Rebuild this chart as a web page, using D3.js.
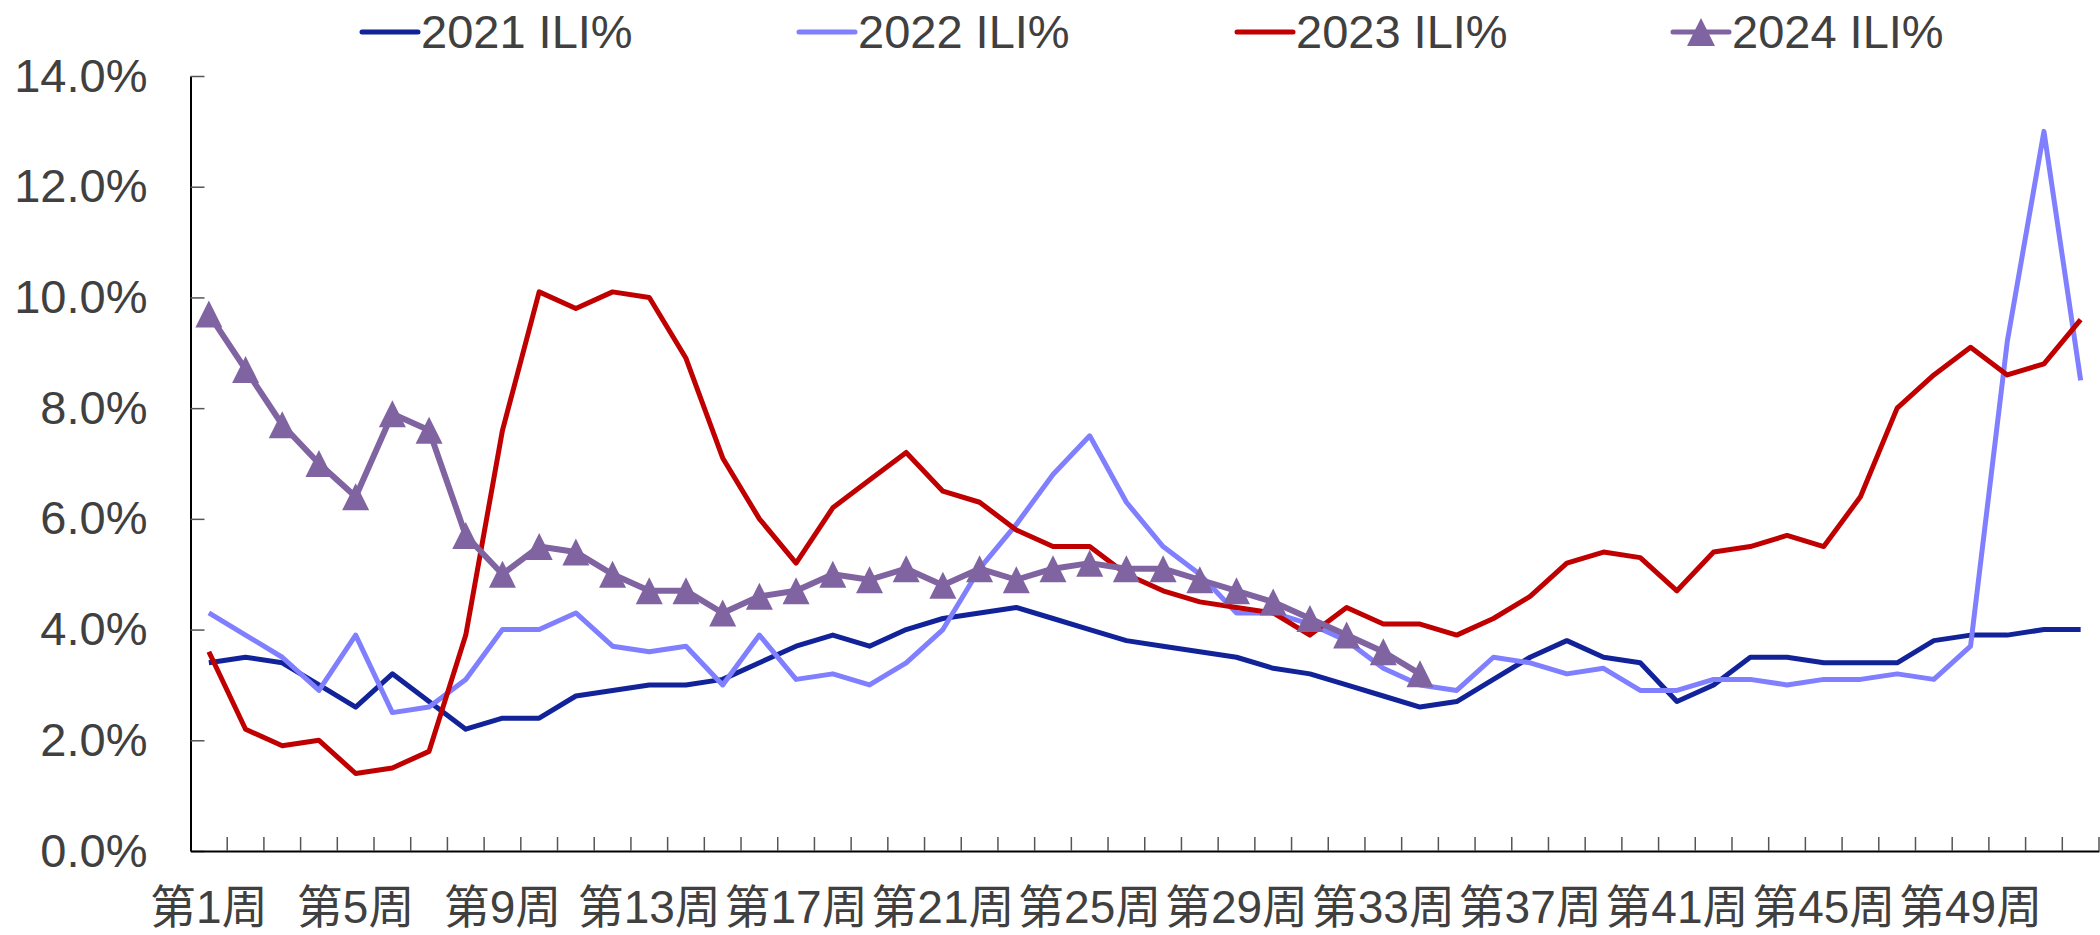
<!DOCTYPE html>
<html>
<head>
<meta charset="utf-8">
<script src="https://cdn.jsdelivr.net/npm/d3@7"></script>
<style>
  html, body { margin: 0; padding: 0; background: #fff; }
  svg { display: block; }
</style>
</head>
<body>
<svg id="chart" width="2100" height="935"></svg>
<script>
// ---- DATA ----
const weeks = d3.range(1, 53).map(i => "第" + i + "周");
const tickLabels = ["第1周","第5周","第9周","第13周","第17周","第21周","第25周","第29周","第33周","第37周","第41周","第45周","第49周"];
const yTicks = [0, 2, 4, 6, 8, 10, 12, 14];

const ili2021 = [3.4,3.5,3.4,3.0,2.6,3.2,2.7,2.2,2.4,2.4,2.8,2.9,3.0,3.0,3.1,3.4,3.7,3.9,3.7,4.0,4.2,4.3,4.4,4.2,4.0,3.8,3.7,3.6,3.5,3.3,3.2,3.0,2.8,2.6,2.7,3.1,3.5,3.8,3.5,3.4,2.7,3.0,3.5,3.5,3.4,3.4,3.4,3.8,3.9,3.9,4.0,4.0];
const ili2022 = [4.3,3.9,3.5,2.9,3.9,2.5,2.6,3.1,4.0,4.0,4.3,3.7,3.6,3.7,3.0,3.9,3.1,3.2,3.0,3.4,4.0,5.1,5.9,6.8,7.5,6.3,5.5,5.0,4.3,4.3,4.1,3.8,3.3,3.0,2.9,3.5,3.4,3.2,3.3,2.9,2.9,3.1,3.1,3.0,3.1,3.1,3.2,3.1,3.7,9.2,13.0,8.5];
const ili2023 = [3.6,2.2,1.9,2.0,1.4,1.5,1.8,3.9,7.6,10.1,9.8,10.1,10.0,8.9,7.1,6.0,5.2,6.2,6.7,7.2,6.5,6.3,5.8,5.5,5.5,5.0,4.7,4.5,4.4,4.3,3.9,4.4,4.1,4.1,3.9,4.2,4.6,5.2,5.4,5.3,4.7,5.4,5.5,5.7,5.5,6.4,8.0,8.6,9.1,8.6,8.8,9.6];
const ili2024 = [9.7,8.7,7.7,7.0,6.4,7.9,7.6,5.7,5.0,5.5,5.4,5.0,4.7,4.7,4.3,4.6,4.7,5.0,4.9,5.1,4.8,5.1,4.9,5.1,5.2,5.1,5.1,4.9,4.7,4.5,4.2,3.9,3.6,3.2];

const seriesNames = ["2021 ILI%","2022 ILI%","2023 ILI%","2024 ILI%"];
const seriesColors = ["#12239A","#7F7FFF","#C00000","#8064A2"];

// ---- CHART ----
const svg = d3.select("#chart");
const textColor = "#404040";
const latinFont = "'Liberation Sans', Arial, sans-serif";
const cjkFont = "'Liberation Sans', 'Noto Sans CJK SC', sans-serif";

const plotLeft = 190.5, plotRight = 2099, plotTop = 76, plotBottom = 851;

const x = d3.scaleBand().domain(weeks).range([plotLeft, plotRight]).padding(0);
const bw = x.bandwidth();
const cx = w => x(w) + bw / 2;
const y = d3.scaleLinear().domain([0, 14]).range([plotBottom, plotTop]);

// Y axis
const yAxis = d3.axisLeft(y)
  .tickValues(yTicks)
  .tickSizeInner(-14)
  .tickSizeOuter(0)
  .tickPadding(43)
  .tickFormat(d => d.toFixed(1) + "%");
const yg = svg.append("g").attr("transform", `translate(${plotLeft},0)`).call(yAxis);
yg.select(".domain").attr("stroke", "#000").attr("stroke-width", 2);
yg.selectAll(".tick line").attr("stroke", "#555").attr("stroke-width", 1.5);
yg.selectAll(".tick text").attr("fill", textColor).style("font-family", latinFont).style("font-size", "47px");

// X axis (labels)
const xAxis = d3.axisBottom(x)
  .tickValues(tickLabels)
  .tickSizeInner(0)
  .tickSizeOuter(0)
  .tickPadding(0);
const xg = svg.append("g").attr("transform", `translate(0,${plotBottom})`).call(xAxis);
xg.select(".domain").attr("stroke", "#000").attr("stroke-width", 2);
xg.selectAll(".tick line").remove();
xg.selectAll(".tick text")
  .attr("fill", textColor)
  .attr("dy", null)
  .attr("y", 72)
  .style("font-family", cjkFont)
  .style("font-size", "46px");

// X boundary ticks (inward)
svg.append("g").selectAll("line")
  .data(weeks)
  .join("line")
  .attr("x1", d => x(d) + bw)
  .attr("x2", d => x(d) + bw)
  .attr("y1", plotBottom)
  .attr("y2", plotBottom - 14)
  .attr("stroke", "#555")
  .attr("stroke-width", 1.5);

// Lines
const allSeries = [ili2021, ili2022, ili2023, ili2024];
const line = d3.line()
  .x((d, i) => cx(weeks[i]))
  .y(d => y(d));

allSeries.forEach((vals, si) => {
  svg.append("path")
    .datum(vals)
    .attr("fill", "none")
    .attr("stroke", seriesColors[si])
    .attr("stroke-width", si === 3 ? 6 : 5)
    .attr("stroke-linejoin", "round")
    .attr("stroke-linecap", "butt")
    .attr("d", line);
});

// Triangle markers for 2024
const tri = (px, py, s) => `M${px},${py - s / 2}L${px + s / 2},${py + s / 2}L${px - s / 2},${py + s / 2}Z`;
svg.append("g").selectAll("path")
  .data(ili2024)
  .join("path")
  .attr("d", (d, i) => tri(cx(weeks[i]), y(d), 27))
  .attr("fill", seriesColors[3]);

// Legend
const legendX = [362, 799, 1237, 1673];
const legendY = 32;
const lg = svg.append("g");
seriesNames.forEach((name, i) => {
  const g = lg.append("g").attr("transform", `translate(${legendX[i]},${legendY})`);
  g.append("line")
    .attr("x1", 0).attr("x2", 56).attr("y1", 0).attr("y2", 0)
    .attr("stroke", seriesColors[i]).attr("stroke-width", 5)
    .attr("stroke-linecap", "round");
  if (i === 3) {
    g.append("path").attr("d", tri(28, 0, 28)).attr("fill", seriesColors[i]);
  }
  g.append("text")
    .attr("x", 59)
    .attr("y", 16)
    .attr("fill", textColor)
    .style("font-family", latinFont)
    .style("font-size", "47px")
    .text(name);
});
</script>
</body>
</html>
